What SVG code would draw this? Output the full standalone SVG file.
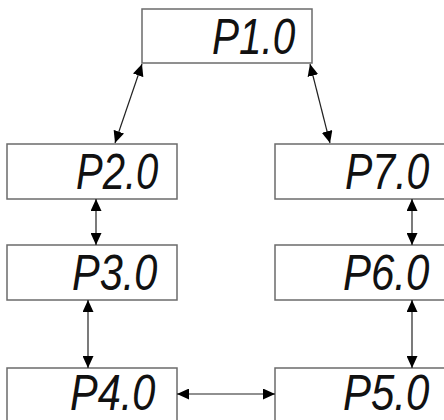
<svg xmlns="http://www.w3.org/2000/svg" width="444" height="420" viewBox="0 0 444 420">
<style>
.box{fill:#fff;stroke:#6b6b6b;stroke-width:1.5}
.lbl{font-family:"Liberation Sans","DejaVu Sans",sans-serif;font-style:italic;font-size:50px;fill:#111}
.con{stroke:#222;stroke-width:1.2;fill:none;marker-start:url(#ah);marker-end:url(#ah)}
</style>
<defs>
<marker id="ah" viewBox="0 0 12 11" refX="12" refY="5.5" markerWidth="12" markerHeight="11" markerUnits="userSpaceOnUse" orient="auto-start-reverse">
<path d="M0,0 L12,5.5 L0,11 z" fill="#000"/>
</marker>
</defs>
<rect width="444" height="420" fill="#fff"/>
<g id="P1"><rect class="box" x="142" y="9" width="170" height="54"/><text class="lbl" transform="translate(212,54) scale(0.81,1)">P1.0</text></g>
<g id="P2"><rect class="box" x="7" y="144" width="170" height="55"/><text class="lbl" transform="translate(76,189) scale(0.8,1)">P2.0</text></g>
<g id="P7"><rect class="box" x="275" y="144" width="170" height="55"/><text class="lbl" transform="translate(345,189) scale(0.82,1)">P7.0</text></g>
<g id="P3"><rect class="box" x="7" y="245" width="170" height="55"/><text class="lbl" transform="translate(72,290) scale(0.83,1)">P3.0</text></g>
<g id="P6"><rect class="box" x="275" y="245" width="170" height="55"/><text class="lbl" transform="translate(343,290) scale(0.84,1)">P6.0</text></g>
<g id="P4"><rect class="box" x="7" y="368" width="170" height="60"/><text class="lbl" transform="translate(70,409.5) scale(0.83,1)">P4.0</text></g>
<g id="P5"><rect class="box" x="275" y="368" width="170" height="60"/><text class="lbl" transform="translate(343,409.5) scale(0.84,1)">P5.0</text></g>
<g id="connectors">
<line class="con" x1="142" y1="64" x2="115" y2="143"/>
<line class="con" x1="310" y1="64" x2="330" y2="143"/>
<line class="con" x1="96" y1="199" x2="96" y2="245"/>
<line class="con" x1="412" y1="199" x2="412" y2="245"/>
<line class="con" x1="88" y1="300" x2="88" y2="368"/>
<line class="con" x1="412" y1="300" x2="412" y2="368"/>
<line class="con" x1="177" y1="394" x2="275" y2="394"/>
</g>
</svg>
